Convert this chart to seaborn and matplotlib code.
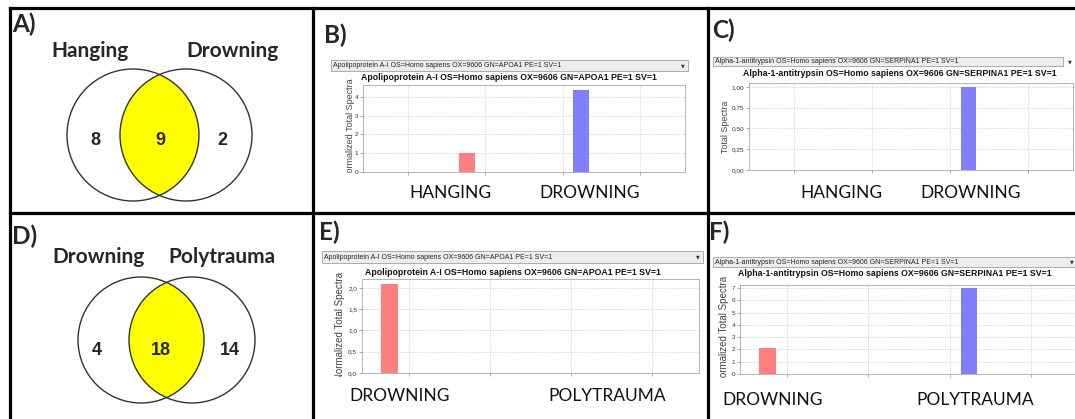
import matplotlib
matplotlib.use('Agg')
import matplotlib.pyplot as plt
from matplotlib.patches import Circle, Rectangle
from matplotlib.transforms import Bbox, TransformedBbox
import seaborn as sns
import pandas as pd

sns.set_style('white')

W, H = 1075, 419
RED, BLUE = '#ff7f7f', '#7f7fff'
BIG = 'Lato'
JAVA = 'Liberation Sans'

# ── Data ───────────────────────────────────────────────────────────────────────
venn_a_sets = ['Hanging', 'Drowning']
venn_a_counts = [8, 9, 2]
venn_d_sets = ['Drowning', 'Polytrauma']
venn_d_counts = [4, 18, 14]

samples = ['S1', 'S2', 'S3', 'S4']
apoa1 = 'Apolipoprotein A-I OS=Homo sapiens OX=9606 GN=APOA1 PE=1 SV=1'
serpina1 = 'Alpha-1-antitrypsin OS=Homo sapiens OX=9606 GN=SERPINA1 PE=1 SV=1'

b_groups = ['HANGING', 'DROWNING']
b_red = [0, 1.0, 0, 0]
b_blue = [0, 0, 4.35, 0]
b_yticks = [0, 1, 2, 3, 4]
b_ytl = ['0', '1', '2', '3', '4']

c_groups = ['HANGING', 'DROWNING']
c_red = [0, 0, 0, 0]
c_blue = [0, 0, 1.0, 0]
c_yticks = [0, 0.25, 0.5, 0.75, 1.0]
c_ytl = ['0,00', '0,25', '0,50', '0,75', '1,00']

e_groups = ['DROWNING', 'POLYTRAUMA']
e_red = [2.1, 0, 0, 0]
e_blue = [0, 0, 0, 0]
e_yticks = [0, 0.5, 1.0, 1.5, 2.0]
e_ytl = ['0,0', '0,5', '1,0', '1,5', '2,0']

f_groups = ['DROWNING', 'POLYTRAUMA']
f_red = [2.1, 0, 0, 0]
f_blue = [0, 0, 7.0, 0]
f_yticks = [0, 1, 2, 3, 4, 5, 6, 7]
f_ytl = ['0', '1', '2', '3', '4', '5', '6', '7']


def px_rect(x0, y0, x1, y1):
    return [x0 / W, 1 - y1 / H, (x1 - x0) / W, (y1 - y0) / H]


fig = plt.figure(figsize=(W / 100, H / 100), dpi=100)
ov = fig.add_axes([0, 0, 1, 1])
ov.set_xlim(0, W)
ov.set_ylim(H, 0)
ov.axis('off')


# ── Venn diagrams ──────────────────────────────────────────────────────────────
def venn(c1, c2, r, sets, counts, set_xs, set_y, num_xs, num_y):
    lens = Circle(c1, r, fc='#ffff00', ec='none')
    ov.add_patch(lens)
    lens.set_clip_path(Circle(c2, r, transform=ov.transData))
    for c in (c1, c2):
        ov.add_patch(Circle(c, r, fc='none', ec='#333333', lw=1.0))
    for name, x in zip(sets, set_xs):
        ov.text(x, set_y, name, fontsize=15, weight='bold', family=BIG,
                ha='center', va='baseline')
    for n, x in zip(counts, num_xs):
        ov.text(x, num_y, str(n), fontsize=13, weight='bold', family=JAVA,
                ha='center', va='baseline')


venn((133, 135), (186, 135), 66, venn_a_sets, venn_a_counts,
     [90, 232], 57, [95, 160, 222], 145)
venn((141, 340), (192, 340), 63, venn_d_sets, venn_d_counts,
     [98, 222], 263, [97, 161, 230], 355)


# ── Scaffold-style bar chart screenshots ──────────────────────────────────────
def screenshot(shot, drop, arrow_x, title_xy, plot, protein, groups, red, blue,
               ymax, yticks, ytl, ylabel, lab_x, lab_size):
    sx0, sy0, sx1, sy1 = shot
    clip = TransformedBbox(Bbox.from_extents(sx0 / W, 1 - sy1 / H, sx1 / W, 1 - sy0 / H),
                           fig.transFigure)
    dx0, dy0, dx1, dy1 = drop
    ov.add_patch(Rectangle((dx0, dy0), dx1 - dx0, dy1 - dy0, fc='#ededed',
                           ec='#a0a0a0', lw=0.6))
    ov.text(dx0 + 2, (dy0 + dy1) / 2, protein, fontsize=5, family=JAVA,
            color='#222222', va='center')
    ov.text(arrow_x, (dy0 + dy1) / 2, '\u25bc', fontsize=3.5, family='DejaVu Sans',
            color='#333333', ha='center', va='center')
    ov.text(title_xy[0], title_xy[1], protein, fontsize=6.3, weight='bold',
            family=JAVA, color='#111111', ha='center', va='center')

    ax = fig.add_axes(px_rect(*plot))
    df = pd.DataFrame({'sample': samples * 2,
                       'group': [groups[0]] * len(samples) + [groups[1]] * len(samples),
                       'value': red + blue})
    sns.barplot(data=df, x='sample', y='value', hue='group', hue_order=groups,
                palette=[RED, BLUE], width=0.96, gap=0.58, saturation=1,
                linewidth=0, errorbar=None, legend=False, ax=ax)
    ax.set_xlim(-0.58, len(samples) - 0.42)
    ax.set_ylim(0, ymax)
    ax.set_xticks(range(len(samples)))
    ax.set_xticklabels([''] * len(samples))
    ax.set_yticks(yticks)
    ax.set_yticklabels(ytl)
    ax.set_xlabel('')
    ax.grid(True, color='#cfcfcf', linestyle=(0, (1.5, 1.5)), linewidth=0.6)
    ax.set_axisbelow(True)
    ax.tick_params(axis='both', length=2, width=0.5, color='#888888', pad=1.5,
                   labelsize=4.6, labelcolor='#333333', left=True, bottom=True)
    for lab in ax.get_yticklabels():
        lab.set_family(JAVA)
    for s in ax.spines.values():
        s.set_color('#a8a8a8')
        s.set_linewidth(0.6)
    ax.set_ylabel(ylabel, fontsize=lab_size, family=JAVA, color='#444444')
    ax.yaxis.label.set_va('center')
    ax.yaxis.set_label_coords(lab_x, 0.5)
    ax.yaxis.label.set_clip_box(clip)
    ax.yaxis.label.set_clip_on(True)
    return ax


screenshot((331, 45, 690, 173), (331, 60, 688, 71), 683, (509, 78),
           (363, 85, 685, 172), apoa1, b_groups, b_red, b_blue, 4.64,
           b_yticks, b_ytl, 'Normalized Total Spectra', -0.04, 6.5)
screenshot((713, 45, 1075, 171), (713, 57, 1063, 66), 1070, (900, 73),
           (749, 83, 1073, 170), serpina1, c_groups, c_red, c_blue, 1.048,
           c_yticks, c_ytl, 'Total Spectra', -0.074, 6.4)
screenshot((322, 245, 705, 377), (322, 251, 703, 263), 698, (513, 272),
           (362, 279, 699, 373), apoa1, e_groups, e_red, e_blue, 2.21,
           e_yticks, e_ytl, 'Normalized Total Spectra', -0.066, 7.0)
screenshot((713, 250, 1075, 378), (713, 257, 1078, 267), 1072, (895, 273),
           (740, 285, 1078, 374), serpina1, f_groups, f_red, f_blue, 7.24,
           f_yticks, f_ytl, 'Normalized Total Spectra', -0.047, 7.0)

# ── Group labels under the screenshots ────────────────────────────────────────
label_pos = [(b_groups, [450, 590], 198), (c_groups, [841, 971], 198),
             (e_groups, [400, 607], 401), (f_groups, [773, 975], 405)]
for names, xs, y in label_pos:
    for name, x in zip(names, xs):
        ov.text(x, y, name, fontsize=12.5, family=BIG, ha='center', va='baseline',
                color='#111111')

# ── Panel letters and borders ─────────────────────────────────────────────────
letters = ['A)', 'B)', 'C)', 'D)', 'E)', 'F)']
letter_xy = [(12, 32), (324, 43), (712, 38), (12, 244), (319, 240), (709, 240)]
for s, (x, y) in zip(letters, letter_xy):
    ov.text(x, y, s, fontsize=17.5, weight='bold', family=BIG, va='baseline')

for (x0, y0, x1, y1) in [(10, 8, W, 8), (10, 213, W, 213), (10, 8, 10, H),
                         (313, 8, 313, H), (708, 8, 708, H)]:
    ov.plot([x0, x1], [y0, y1], color='black', lw=2.3, solid_capstyle='projecting')

fig.savefig('out.png', dpi=100)
